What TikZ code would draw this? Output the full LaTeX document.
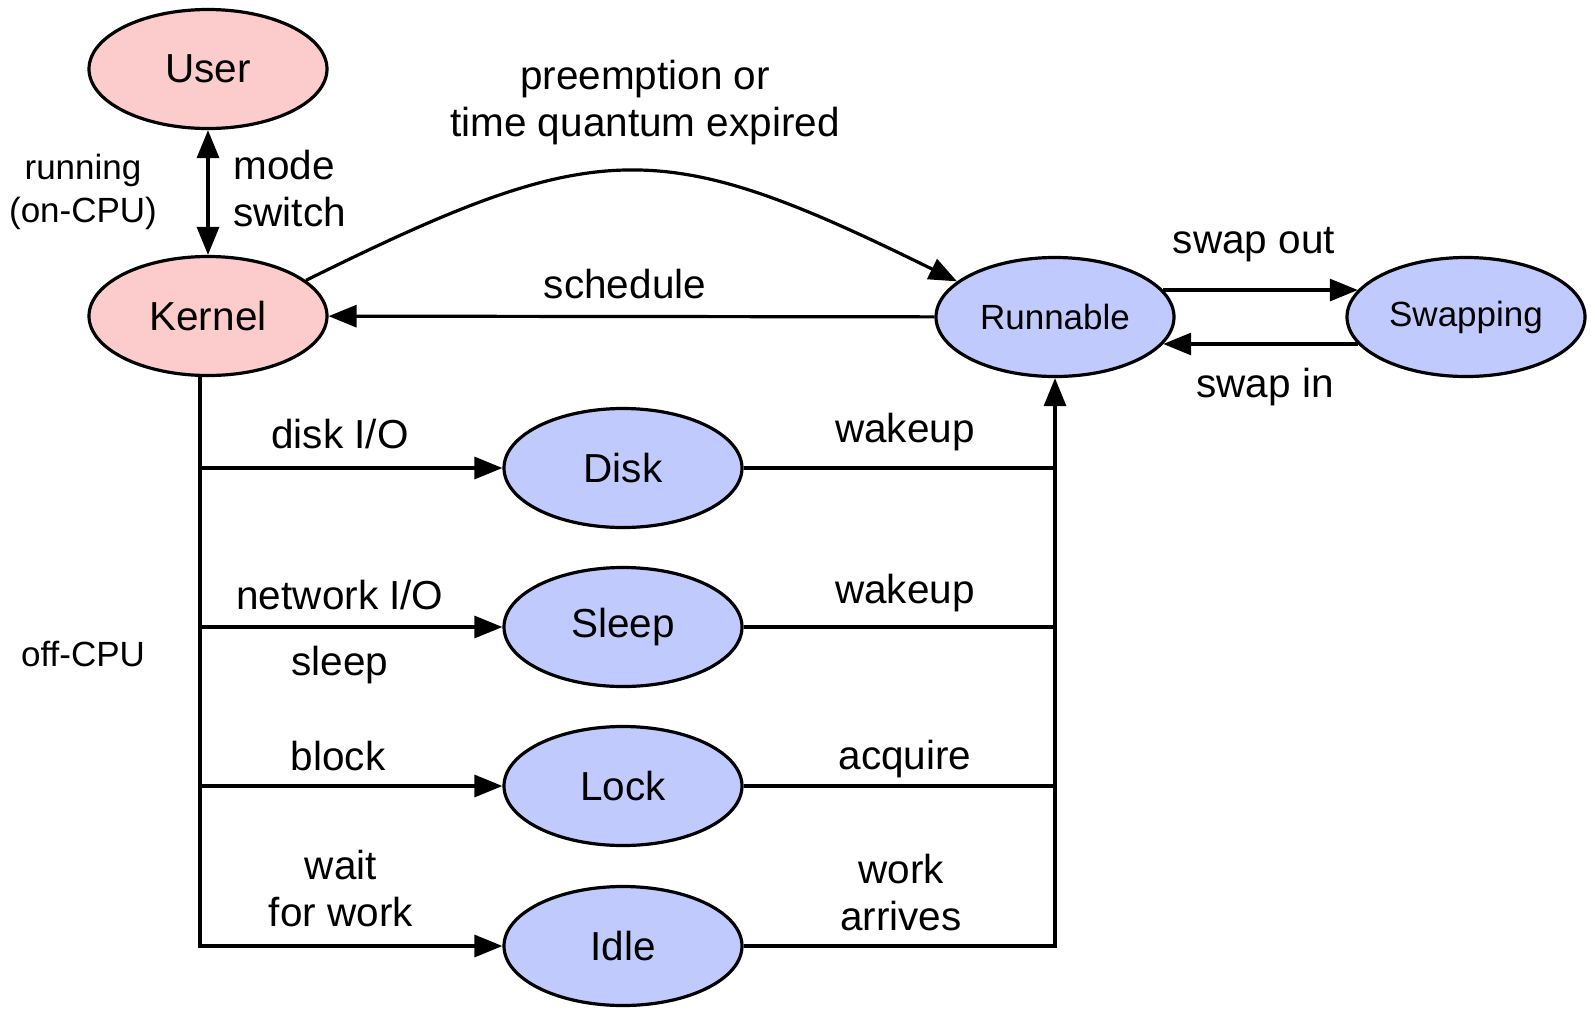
\documentclass[tikz,border=0pt]{standalone}
\usepackage{fontspec}
\setmainfont{Liberation Sans}
\usetikzlibrary{shapes.geometric,arrows.meta}
\definecolor{cpupink}{RGB}{252,204,204}
\definecolor{waitblue}{RGB}{192,202,252}
\tikzset{
  >={Triangle[length=14pt,width=11pt]},
  procstate/.style={ellipse,draw,line width=1.6pt,minimum width=119pt,minimum height=59.5pt,inner sep=0pt,font=\fontsize{20.25}{24}\selectfont},
  oncpu/.style={procstate,fill=cpupink},
  offcpu/.style={procstate,fill=waitblue},
  smallname/.style={font=\fontsize{17.5}{21}\selectfont},
  lbl/.style={font=\fontsize{20.25}{23.5}\selectfont,align=center,inner sep=0pt},
  smalllbl/.style={lbl,font=\fontsize{17.5}{21.5}\selectfont},
  wire/.style={line width=1.6pt},
}
\begin{document}
\begin{tikzpicture}[x=0.5pt,y=-0.5pt]
  \useasboundingbox (0,0) rectangle (1591,1008);
  % running states
  \node[oncpu] (User) at (208,69) {User};
  \node[oncpu] (Kernel) at (208,316) {Kernel};
  \node[offcpu,smallname] (Runnable) at (1055,317) {Runnable};
  \node[offcpu,smallname] (Swapping) at (1466,317) {Swapping};
  % off-CPU waits
  \node[offcpu] (Disk) at (623,468) {Disk};
  \node[offcpu] (Sleep) at (623,627) {Sleep};
  \node[offcpu] (Lock) at (623,786) {Lock};
  \node[offcpu] (Idle) at (623,946) {Idle};

  % transitions between the top states
  \draw[wire,<->] (User) -- (Kernel);
  \draw[wire,->] (Kernel.20) .. controls (600,135) and (660,135) .. (Runnable.160);
  \draw[wire,->] (Runnable) -- (Kernel);
  \draw[wire,->] (Runnable.14) -- (Swapping.166);
  \draw[wire,->] (Swapping.194) -- (Runnable.346);

  % kernel drops into the wait states
  \coordinate (kdrop) at ([xshift=-4pt]Kernel.south);
  \draw[wire,->] (kdrop) -- (kdrop |- Idle.west) -- (Idle.west);
  \foreach \s in {Disk,Sleep,Lock}
    \draw[wire,->] (kdrop |- \s.west) -- (\s.west);
  % and back up to the run queue
  \draw[wire,->] (Idle.east) -- (Idle.east -| Runnable.south) -- (Runnable.south);
  \foreach \s in {Disk,Sleep,Lock}
    \draw[wire] (\s.east) -- (\s.east -| Runnable.south);

  % labels
  \node[lbl] (preempt) at (645,103) {preemption or\\time quantum expired};
  \node[smalllbl] (runlbl) at (83,192) {running\\(on-CPU)};
  \node[lbl,align=left,anchor=west] (modesw) at (233,189) {mode\\switch};
  \node[lbl] (sched) at (625,284) {schedule};
  \node[lbl] (swout) at (1254,245) {swap out};
  \node[lbl] (swin) at (1265,387) {swap in};
  \node[lbl] (diskio) at (340,434) {disk I/O};
  \node[lbl] (wakedisk) at (905,432) {wakeup};
  \node[lbl] (netio) at (340,595) {network I/O};
  \node[lbl] (sleeplbl) at (340,665) {sleep};
  \node[lbl] (wakesleep) at (905,593) {wakeup};
  \node[smalllbl] (offlbl) at (83,654) {off-CPU};
  \node[lbl] (blocklbl) at (338,756) {block};
  \node[lbl] (acq) at (905,759) {acquire};
  \node[lbl] (waitlbl) at (341,889) {wait\\for work};
  \node[lbl] (arrive) at (901,893) {work\\arrives};
\end{tikzpicture}
\end{document}
